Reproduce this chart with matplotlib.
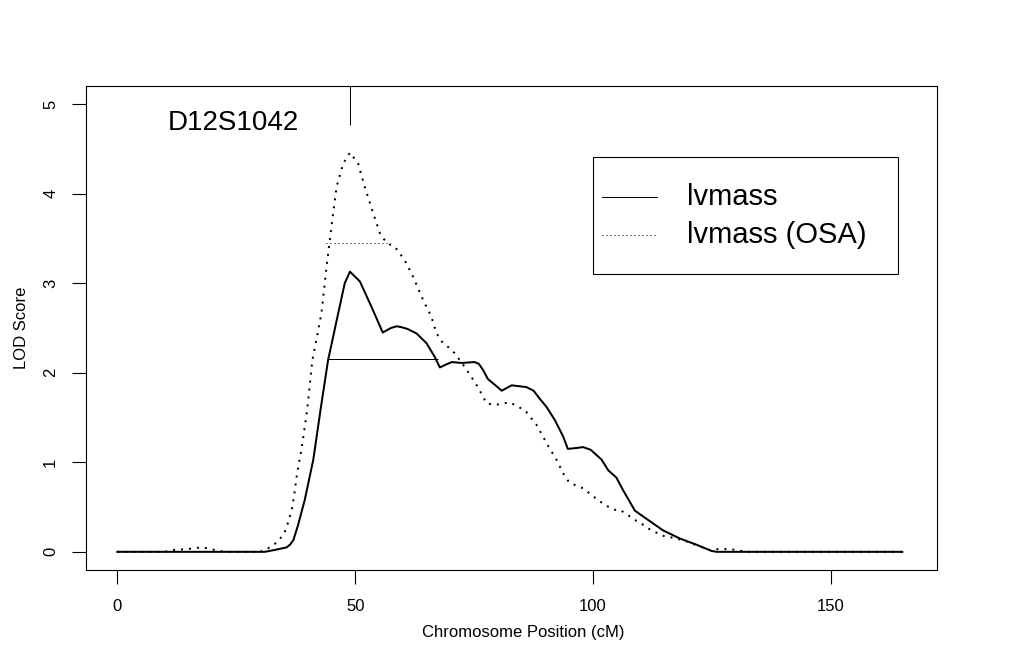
import matplotlib
matplotlib.use("Agg")
import matplotlib.pyplot as plt
from matplotlib.lines import Line2D
from matplotlib.patches import Rectangle

plt.rcParams['font.family'] = ['Liberation Sans', 'DejaVu Sans']

# ---- data ----
lvmass_cm = [0, 30, 31, 33, 35.6, 36.3, 37, 38, 39.4, 41.2, 42.7, 44.3, 47.8, 48.9,
             51, 53.4, 55.8, 57.5, 58.7, 59.7, 61, 62.9, 65, 66.7, 67.8, 69, 70.3,
             72.4, 75.1, 76, 76.9, 77.9, 79.5, 80.8, 82.9, 84.5, 86, 87.5, 88.8,
             90.2, 92, 93.7, 94.7, 96.5, 97.9, 99.5, 101.8, 103.2, 104.9, 106.3,
             108.8, 111.2, 114.7, 118.2, 121.7, 124.9, 126, 165]
lvmass_lod = [0, 0, 0, 0.02, 0.05, 0.08, 0.13, 0.3, 0.58, 1.03, 1.58, 2.14, 3.0, 3.13,
              3.02, 2.74, 2.45, 2.50, 2.52, 2.51, 2.49, 2.44, 2.33, 2.18, 2.06, 2.09, 2.12,
              2.11, 2.12, 2.10, 2.03, 1.93, 1.86, 1.80, 1.86, 1.85, 1.84, 1.80, 1.71,
              1.62, 1.47, 1.29, 1.15, 1.16, 1.17, 1.14, 1.03, 0.91, 0.83, 0.69,
              0.46, 0.37, 0.24, 0.15, 0.08, 0.01, 0, 0]

osa_cm = [0, 10, 11.4, 14.6, 17.7, 19.5, 21.2, 23, 30, 31, 32.6, 34, 35.2, 36.1, 36.8,
          37.3, 37.8, 38.7, 39.9, 41, 42.9, 44, 45, 46.1, 47.5, 48.9, 50.6, 52, 53.8,
          55.2, 56.6, 58.3, 60.4, 62.2, 64.3, 66, 67.1, 68.2, 69.5, 70.9, 72.7, 74.1,
          75.8, 77.6, 79.3, 82.5, 85.7, 88.1, 90.5, 92.3, 94.1, 95.1, 97.9, 101,
          102.6, 104.5, 105.6, 107.1, 108.6, 109.8, 111.6, 114.6, 117.5, 120, 122,
          124.5, 126.3, 128, 129.6, 131.2, 132, 165]
osa_lod = [0, 0, 0.02, 0.03, 0.05, 0.035, 0.01, 0, 0, 0.02, 0.065, 0.13, 0.22, 0.36, 0.50,
           0.68, 0.88, 1.14, 1.58, 2.14, 2.66, 3.19, 3.63, 4.08, 4.34, 4.46, 4.34, 4.08, 3.78,
           3.56, 3.45, 3.41, 3.26, 3.07, 2.81, 2.63, 2.44, 2.35, 2.29, 2.22, 2.09, 1.98,
           1.84, 1.66, 1.64, 1.67, 1.58, 1.42, 1.19, 1.03, 0.84, 0.77, 0.71, 0.58,
           0.52, 0.47, 0.47, 0.42, 0.36, 0.33, 0.26, 0.18, 0.15, 0.11, 0.07,
           0.02, 0.03, 0.03, 0.025, 0.01, 0, 0]

# support-interval threshold lines: level, start, end
thr_level = [2.15, 3.45]
thr_start = [44.3, 43.8]
thr_end = [67.4, 56.6]

marker_pos = 48.9
marker_name = "D12S1042"
series_names = ["lvmass", "lvmass (OSA)"]

x_ticks = [0, 50, 100, 150]
y_ticks = [0, 1, 2, 3, 4, 5]

# ---- figure ----
W, H = 1024, 657
fig = plt.figure(figsize=(W / 100, H / 100), dpi=100)
L, R, T, B = 86, 937, 86, 570
ax = fig.add_axes([L / W, 1 - B / H, (R - L) / W, (B - T) / H])

lw_thick = 1.44
lw_thin = 0.72
ax.plot(lvmass_cm, lvmass_lod, color='black', lw=lw_thick, solid_joinstyle='round')
ax.plot(osa_cm, osa_lod, color='black', lw=lw_thick, linestyle=(0, (1, 3)),
        dash_capstyle='butt')
ax.hlines(thr_level[0], thr_start[0], thr_end[0], color='black', lw=lw_thin)
ax.hlines(thr_level[1], thr_start[1], thr_end[1], color='black', lw=lw_thin,
          linestyles=[(0, (1, 3))])

ax.vlines(marker_pos, 4.77, 5.4, color='black', lw=lw_thin)
ax.text(24.5, 4.79, marker_name, fontsize=20, ha='center', va='center')

ax.set_xlim(-6.58, 172.3)
ax.set_ylim(-0.203, 5.204)

for s in ax.spines.values():
    s.set_linewidth(0.8)
    s.set_color('black')

ax.set_xticks(x_ticks)
ax.set_xticklabels([str(v) for v in x_ticks])
ax.set_yticks(y_ticks)
ax.set_yticklabels([str(v) for v in y_ticks], rotation=90, va='center')
ax.tick_params(axis='both', direction='out', length=10, width=0.8, labelsize=12,
               color='black', labelcolor='black')
ax.tick_params(axis='x', pad=11)
ax.tick_params(axis='y', pad=10)

fig.text(523 / W, 1 - 633 / H, "Chromosome Position (cM)", fontsize=12,
         ha='center', va='center')
fig.text(22 / W, 1 - 328 / H, "LOD Score", fontsize=12, rotation=90,
         ha='center', va='center')

# legend (R-style box)
def fx(px):
    return (px - L) / (R - L)

def fy(py):
    return (B - py) / (B - T)

ax.add_patch(Rectangle((fx(592.7), fy(274)), fx(898) - fx(592.7), fy(157.3) - fy(274),
                       transform=ax.transAxes, fill=False, edgecolor='black',
                       lw=0.8, clip_on=False))
ax.add_line(Line2D([fx(601.7), fx(657)], [fy(197), fy(197)], transform=ax.transAxes,
                   color='black', lw=lw_thin))
ax.add_line(Line2D([fx(601.7), fx(657)], [fy(235), fy(235)], transform=ax.transAxes,
                   color='black', lw=lw_thin, linestyle=(0, (1, 3))))
ax.text(fx(687), fy(197), series_names[0], transform=ax.transAxes, fontsize=21,
        ha='left', va='center')
ax.text(fx(687), fy(235), series_names[1], transform=ax.transAxes, fontsize=21,
        ha='left', va='center')

fig.savefig("out.png", dpi=100)
